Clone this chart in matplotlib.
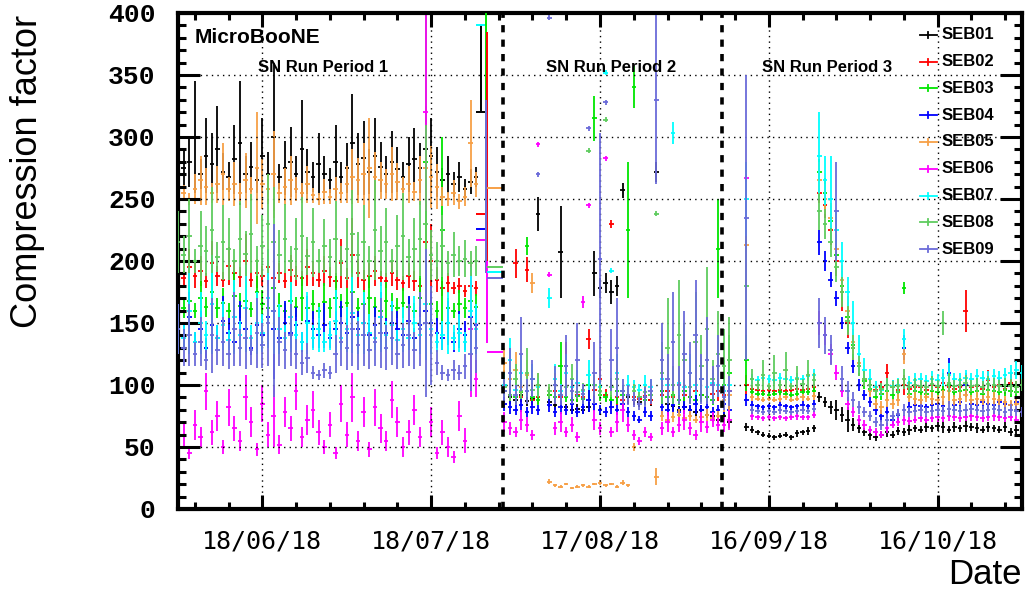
"""
plot.py
-------
SN stream compression factor per SEB for the three MicroBooNE SN run periods.
Day 0 on the x axis is 03/06/18; one value per day.
"""

import numpy as np
import matplotlib
matplotlib.use("Agg")
import matplotlib.pyplot as plt

# ---------------------------------------------------------------- axis data
tick_days = [15, 45, 75, 105, 135]
tick_labels = ["18/06/18", "18/07/18", "17/08/18", "16/09/18", "16/10/18"]
separator_days = [57.7, 96.6]
period_labels = ["SN Run Period 1", "SN Run Period 2", "SN Run Period 3"]
period_start = [0, 58, 97]        # first day of each list below

names = ["SEB01", "SEB02", "SEB03", "SEB04", "SEB05",
         "SEB06", "SEB07", "SEB08", "SEB09"]
colors = ["#000000", "#ff0000", "#00e600", "#0000ff", "#f7a046",
          "#ff00ff", "#00ffff", "#5fcc5f", "#6b6bd9"]

N = None

# ---------------------------------------------------------------- series
seb01 = [
    [268, 275, 280, 300, 270, 285, 278, 290, 272, 268, 282, 295, 270, 276, 265, 285, 270, 300,
     268, 275, 280, 270, 290, 272, 268, 278, 270, 265, 280, 268, 275, 295, 278, 283, 272, 285,
     276, 270, 280, 274, 268, 278, 282, 275, 290, 285, 272, 265, 270, 262, 268, 258, 264, 268],
    [100, 90, 88, 92, 87, 89, 238, N, 86, 84, 207, 82, 80, 81, 80, 82, 190, 178, 182, 175,
     180, 257, 90, 88, 86, 90, 88, 272, 95, 85, 83, 80, 82, 80, 78, 80, 76, 75, 72],
    [75, 70, N, N, 66, 64, 62, 60, 59, 58, 59, 60, 58, 61, 62, 63, 65,
     90, 86, 82, 80, 76, 72, 68, 65, 62, 60,
     58, 60, 62, 60, 63, 62, 64, 65, 64, 66, 65, 67, 66, 64, 66, 65, 67, 66, 65, 64, 66, 65,
     64, 66, 62, 64, 63]]
seb01_err = [
    [10, 15, 20, 45, 12, 30, 25, 35, 15, 12, 28, 50, 15, 20, 10, 30, 18, 60, 10, 22, 28, 15,
     40, 18, 12, 25, 15, 10, 30, 12, 20, 40, 25, 30, 18, 30, 20, 15, 25, 18, 12, 22, 25, 20,
     35, 30, 20, 10, 15, 10, 12, 8, 10, 8],
    [12, 5, 4, 6, 4, 5, 14, 0, 4, 4, 37, 3, 3, 4, 3, 4, 18, 8, 8, 10, 8, 6, 5, 4, 4, 6, 5, 8,
     10, 5, 4, 3, 4, 3, 3, 4, 3, 3, 3],
    [4, 5, 0, 0, 3, 3, 2, 2, 2, 2, 2, 2, 2, 3, 2, 3, 3, 4, 4, 5, 8, 6, 10, 5, 4, 3, 4,
     3, 3, 4, 3, 3, 3, 4, 3, 3, 4, 3, 4, 5, 3, 4, 3, 5, 3, 4, 3, 4, 3, 3, 4, 3, 4, 3]]

seb02 = [
    [190, 186, 195, 188, 192, 184, 198, 188, 185, 196, 190, 187, 200, 185, 190, 188, 195, 186,
     190, 184, 193, 188, 186, 195, 190, 185, 192, 187, 184, 198, 186, 205, 190, 185, 188, 192,
     186, 184, 190, 185, 182, 188, 184, 180, 215, 200, 185, 178, 182, 178, 180, 176, 180, 178],
    [95, 92, 198, 90, 193, 88, 90, N, 92, 95, 90, 115, 88, 92, 90, 137, 96, 105, 92, 230,
     90, 88, 92, 90, 89, 91, 88, N, 92, 95, 90, 100, 92, 90, 95, 92, 90, 93, 95],
    [92, 95, N, N, 100, 97, 96, 95, 96, 95, 96, 95, 96, 97, 96, 97, 98,
     255, 245, 225, 200, 175, 150, 130, 115, 105, 100,
     96, 98, 110, 98, 96, 100, 97, 98, 98, 96, 100, 98, 102, 98, 97, 98, 160, 98, 99, 97,
     104, 98, 100, 97, 102, 98, 96]]
seb02_err = [
    [8, 6, 15, 10, 12, 6, 18, 8, 6, 15, 10, 8, 22, 6, 12, 8, 15, 10, 8, 6, 12, 8, 6, 15, 10,
     6, 12, 8, 6, 20, 8, 30, 12, 8, 10, 12, 6, 6, 10, 8, 6, 10, 8, 6, 60, 30, 10, 6, 8, 5, 6,
     5, 8, 6],
    [8, 5, 12, 4, 10, 4, 5, 0, 6, 10, 5, 20, 4, 6, 5, 8, 8, 15, 5, 3, 6, 4, 5, 4, 4, 5, 4, 0,
     6, 8, 5, 12, 6, 5, 10, 6, 5, 8, 8],
    [10, 15, 0, 0, 8, 3, 2, 2, 2, 2, 3, 2, 2, 3, 2, 2, 3, 8, 10, 12, 12, 15, 12, 10, 8, 6, 5,
     4, 5, 7, 6, 4, 8, 4, 5, 5, 4, 6, 5, 8, 10, 4, 4, 17, 4, 5, 4, 8, 5, 6, 4, 8, 5, 4]]

seb03 = [
    [165, 162, 168, 160, 170, 163, 175, 162, 166, 160, 172, 164, 168, 161, 175, 165, 162, 178,
     164, 160, 168, 163, 170, 162, 165, 160, 167, 162, 170, 163, 166, 175, 162, 165, 170, 163,
     160, 168, 164, 162, 166, 163, 160, 170, 280, 165, 160, 225, 162, 160, 165, 162, 168, 163],
    [95, 92, 90, 94, 212, 90, 88, N, 92, 90, 115, 90, 88, 91, 89, 100, 315, 92, 90, 88,
     95, 92, 225, 340, 90, 88, 92, N, 95, 90, 92, 88, 95, 90, 88, 92, 90, 88, 210],
    [100, 110, N, N, 120, 94, 93, 93, 92, 93, 94, 93, 92, 93, 94, 94, 95,
     272, 255, 232, 205, 180, 155, 132, 115, 103, 97,
     90, 93, 95, 92, 94, 178, 93, 95, 94, 93, 95, 94, 96, 100, 94, 95, 96, 94, 95, 93, 96,
     95, 94, 96, 95, 94, 95]]
seb03_err = [
    [15, 8, 12, 6, 18, 8, 25, 8, 12, 6, 20, 10, 15, 6, 25, 12, 8, 30, 10, 6, 15, 8, 18, 8, 12,
     6, 15, 8, 20, 10, 12, 30, 8, 12, 18, 8, 6, 15, 10, 8, 12, 8, 6, 18, 120, 12, 8, 75, 8, 6,
     12, 8, 15, 10],
    [8, 5, 4, 6, 7, 4, 4, 0, 5, 4, 20, 4, 4, 5, 4, 12, 18, 5, 4, 4, 10, 5, 55, 17, 4, 4, 5, 0,
     8, 5, 6, 4, 10, 5, 4, 6, 5, 4, 40],
    [20, 30, 0, 0, 25, 3, 2, 2, 2, 2, 3, 2, 2, 2, 3, 2, 3, 10, 12, 12, 12, 12, 12, 10, 8, 6,
     5, 4, 5, 6, 4, 5, 5, 4, 6, 5, 4, 5, 4, 6, 12, 4, 5, 6, 4, 5, 4, 6, 5, 4, 5, 5, 4, 5]]

seb04 = [
    [150, 140, 155, 135, 145, 130, 148, 138, 152, 142, 135, 150, 145, 130, 148, 140, 155, 145,
     138, 150, 142, 148, 135, 152, 145, 140, 148, 138, 145, 150, 142, 155, 145, 150, 140, 148,
     155, 142, 150, 145, 140, 152, 138, 148, 160, 150, 142, 138, 150, 135, 145, 140, 155, 148],
    [85, 82, 80, 84, 78, 82, 80, N, 84, 78, 82, 80, 85, 78, 82, 88, 85, 80, 78, 82,
     80, 85, 78, 75, 72, 78, 75, N, 82, 80, 84, 78, 82, 80, 85, 80, 82, 78, 80],
    [85, 80, N, N, 88, 84, 83, 82, 83, 82, 84, 83, 82, 83, 84, 83, 85,
     215, 200, 185, 170, 150, 130, 115, 100, 92, 86,
     80, 75, 78, 72, 76, 130, 82, 84, 83, 82, 84, 85, 83, 110, 84, 86, 100, 85, 84, 86, 85,
     84, 86, 85, 84, 86, 85]]
seb04_err = [
    [15, 10, 20, 8, 15, 8, 18, 10, 20, 12, 8, 18, 15, 6, 20, 12, 22, 40, 10, 18, 12, 15, 8,
     20, 15, 10, 18, 8, 15, 18, 12, 22, 15, 18, 10, 15, 20, 12, 18, 15, 10, 20, 8, 15, 40, 25,
     12, 10, 18, 8, 15, 12, 22, 15],
    [6, 5, 4, 6, 4, 5, 4, 0, 6, 4, 5, 4, 8, 4, 5, 10, 6, 4, 4, 5, 4, 6, 4, 4, 3, 4, 4, 0, 6,
     5, 6, 4, 5, 4, 8, 4, 5, 4, 4],
    [8, 6, 0, 0, 5, 3, 2, 2, 2, 2, 3, 2, 2, 2, 3, 2, 3, 10, 8, 6, 6, 5, 5, 5, 5, 4, 4,
     4, 5, 5, 4, 5, 10, 4, 5, 4, 3, 4, 5, 4, 12, 4, 5, 10, 4, 4, 5, 4, 3, 4, 4, 3, 5, 4]]

seb05 = [
    [262, 255, 250, 258, 265, 260, 255, 262, 270, 258, 262, 255, 265, 258, 275, 262, 258, 270,
     255, 260, 265, 258, 255, 262, 253, 250, 256, 252, 258, 255, 262, 268, 265, 270, 275, 268,
     265, 262, 270, 264, 258, 262, 256, 265, 275, 268, 260, 252, 250, 255, 248, 252, 295, 262],
    [118, 105, 112, 98, 108, 182, 100, N, 22, 19, 18, 20, 17, 18, 19, 18, 20, 21, 19, 20,
     18, 21, 19, 50, N, N, N, 26, 75, 72, 74, 76, 73, 75, 72, 74, 76, 73, 75],
    [88, 92, N, N, 213, 90, 89, 88, 89, 88, 89, 90, 88, 89, 90, 89, 91,
     265, 250, 235, 210, 185, 160, 135, 118, 105, 95,
     85, 82, 88, 85, 88, 125, 90, 89, 88, 90, 89, 88, 90, 95, 88, 89, 92, 88, 89, 88, 90,
     89, 88, 86, 84, 85, 84]]
seb05_err = [
    [10, 6, 5, 12, 20, 15, 8, 15, 25, 10, 18, 8, 22, 10, 45, 20, 12, 35, 8, 15, 20, 10, 8, 15,
     6, 5, 10, 6, 10, 8, 15, 22, 18, 25, 40, 20, 15, 12, 22, 15, 10, 15, 8, 20, 35, 25, 18, 8,
     6, 10, 6, 8, 35, 10],
    [12, 10, 15, 8, 12, 8, 10, 0, 2, 1, 1, 1, 1, 1, 1, 1, 1, 2, 1, 1, 1, 2, 1, 3, 0, 0, 0, 7,
     4, 3, 4, 5, 3, 4, 3, 4, 5, 3, 4],
    [10, 15, 0, 0, 6, 3, 2, 2, 2, 2, 3, 2, 2, 2, 3, 2, 3, 15, 12, 12, 12, 12, 12, 10, 8, 6, 5,
     4, 5, 6, 4, 5, 8, 4, 5, 4, 4, 5, 4, 6, 10, 4, 5, 6, 4, 5, 4, 6, 5, 4, 5, 4, 4, 3]]

seb06 = [
    [55, 60, 45, 68, 58, 95, 62, 75, 50, 82, 65, 55, 90, 70, 48, 85, 60, 75, 52, 78, 65, 95,
     58, 72, 80, 62, 50, 68, 45, 85, 60, 90, 55, 78, 48, 82, 65, 55, 88, 70, 50, 62, 80, 58,
     320, 70, 45, 62, 50, 42, 75, 55, 145, 105],
    [70, 65, 62, 72, 68, 60, 294, N, 189, 65, 70, 62, 68, 58, 167, 245, 72, 65, 283, 62,
     70, 80, 68, 60, 55, 62, 58, N, 65, 70, 62, 68, 72, 65, 60, 70, 66, 72, 68],
    [68, 72, N, N, 267, 75, 74, 73, 74, 73, 74, 73, 74, 75, 74, 74, 76,
     150, 140, 125, 110, 95, 85, 78, 72, 68, 64,
     62, 60, 65, 68, 70, 72, 71, 72, 73, 72, 73, 74, 73, 75, 74, 73, 74, 75, 74, 73, 74, 75,
     74, 73, 74, 72, 73]]
seb06_err = [
    [8, 10, 5, 12, 8, 15, 10, 12, 6, 15, 10, 8, 18, 12, 5, 15, 10, 25, 8, 12, 10, 15, 8, 12,
     15, 10, 6, 10, 5, 15, 10, 20, 8, 12, 6, 15, 12, 8, 15, 12, 8, 10, 12, 8, 80, 12, 5, 10, 8,
     5, 12, 10, 55, 15],
    [8, 5, 4, 8, 6, 4, 2, 0, 2, 5, 8, 4, 6, 4, 5, 2, 8, 5, 2, 4, 8, 10, 6, 4, 3, 4, 3, 0, 5,
     8, 4, 6, 8, 5, 4, 8, 5, 6, 5],
    [6, 8, 0, 0, 3, 3, 2, 2, 2, 2, 2, 2, 2, 3, 2, 2, 3, 10, 8, 8, 6, 5, 5, 4, 4, 4, 3,
     3, 3, 4, 3, 3, 4, 3, 3, 3, 3, 3, 4, 3, 4, 3, 3, 3, 4, 3, 3, 3, 4, 3, 3, 3, 3, 3]]

seb07 = [
    [145, 138, 160, 135, 150, 140, 165, 138, 148, 136, 155, 140, 162, 138, 150, 142, 170, 160,
     145, 138, 155, 140, 135, 150, 138, 145, 135, 140, 152, 138, 145, 158, 140, 150, 142, 138,
     155, 140, 148, 136, 145, 138, 150, 140, 165, 145, 135, 140, 150, 138, 142, 135, 160, 145],
    [100, 120, 96, 110, 95, 105, 98, N, 170, 105, 95, 110, 98, 102, 95, 108, 100, 98, 352,
     192, 110, 95, 100, 98, 96, 100, 98, N, 105, 100, 303, 102, 98, 110, 100, 105, 98, 102,
     100],
    [95, 100, N, N, 250, 105, 104, 106, 105, 104, 106, 105, 104, 106, 105, 107, 108,
     285, 265, 250, 225, 200, 175, 150, 125, 112, 105,
     98, 96, 100, 99, 100, 137, 102, 104, 105, 103, 105, 104, 106, 108, 105, 104, 106, 105,
     107, 106, 105, 107, 106, 108, 110, 112, 110]]
seb07_err = [
    [20, 10, 35, 8, 25, 12, 40, 10, 20, 8, 30, 12, 35, 10, 25, 15, 40, 35, 20, 10, 28, 12, 8,
     25, 10, 18, 8, 12, 25, 10, 18, 32, 15, 25, 15, 10, 28, 12, 20, 8, 18, 10, 22, 15, 45, 20,
     8, 12, 25, 10, 15, 8, 35, 20],
    [10, 18, 6, 15, 5, 12, 8, 0, 8, 12, 6, 15, 8, 10, 5, 12, 8, 6, 2, 2, 15, 5, 8, 6, 5, 8, 6,
     0, 10, 8, 9, 10, 6, 15, 8, 12, 6, 8, 6],
    [10, 12, 0, 0, 30, 4, 3, 3, 3, 3, 4, 3, 3, 4, 3, 4, 5, 35, 20, 35, 15, 15, 12, 18, 15, 10,
     8, 5, 5, 6, 5, 6, 8, 5, 6, 5, 5, 6, 5, 7, 10, 5, 6, 6, 5, 6, 5, 6, 6, 5, 6, 6, 7, 6]]

seb08 = [
    [215, 205, 220, 200, 212, 208, 225, 203, 215, 210, 200, 218, 206, 222, 200, 212, 230, 215,
     205, 218, 200, 210, 220, 204, 215, 200, 212, 203, 218, 200, 210, 222, 205, 215, 200, 225,
     208, 215, 200, 212, 220, 203, 210, 218, 230, 205, 200, 212, 198, 205, 200, 202, 198, 200],
    [98, 92, 105, 95, 110, 96, 100, N, 95, 100, 92, 98, 105, 94, 96, 289, 100, 95, 314, 98,
     105, 95, 92, 95, 90, 94, 92, 238, 110, 130, 100, 140, 120, 98, 135, 115, 145, 105, 125],
    [115, 120, N, N, 180, 105, 100, 108, 99, 110, 100, 112, 99, 105, 101, 108, 104,
     240, 230, 215, 195, 175, 152, 130, 115, 105, 100,
     95, 97, 100, 98, 99, 105, 98, 100, 99, 98, 101, 99, 150, 102, 99, 100, 102, 99, 100, 98,
     101, 100, 99, 100, 99, 98, 100]]
seb08_err = [
    [25, 15, 30, 10, 28, 20, 35, 12, 30, 25, 10, 30, 18, 32, 12, 25, 40, 45, 20, 28, 12, 25,
     32, 15, 28, 10, 22, 15, 30, 12, 25, 35, 18, 30, 12, 40, 20, 28, 10, 25, 35, 15, 25, 30,
     80, 20, 15, 25, 10, 18, 12, 15, 10, 12],
    [8, 5, 12, 6, 20, 6, 10, 0, 6, 10, 5, 8, 12, 5, 6, 2, 8, 5, 2, 8, 15, 5, 4, 6, 4, 5, 4, 2,
     25, 40, 15, 45, 30, 10, 40, 25, 50, 15, 35],
    [30, 35, 0, 0, 40, 8, 4, 12, 3, 14, 4, 15, 3, 10, 4, 12, 6, 15, 12, 12, 12, 12, 12, 10, 8,
     6, 5, 4, 5, 6, 5, 6, 8, 5, 6, 5, 5, 6, 5, 10, 8, 5, 6, 6, 5, 6, 5, 6, 6, 5, 6, 6, 5, 5]]

seb09 = [
    [145, 130, 140, 125, 135, 120, 140, 128, 135, 125, 145, 130, 138, 128, 142, 132, 150, 160,
     135, 128, 140, 125, 118, 122, 110, 108, 112, 110, 125, 135, 130, 145, 132, 140, 128, 135,
     142, 130, 138, 125, 132, 140, 128, 145, 150, 140, 118, 110, 108, 112, 110, 115, 125, 130],
    [95, 110, 92, 125, 95, 105, 270, N, 396, 100, 92, 115, 95, 120, 93, 307, 110, 202, 328,
     120, 130, 95, 92, 88, 85, 90, 95, 330, 120, 105, 135, 100, 125, 110, 140, 105, 120, 100,
     115],
    [90, 95, N, N, 235, 80, 79, 78, 79, 78, 80, 79, 78, 79, 80, 79, 81,
     150, 140, 128, 240, 105, 95, 88, 82, 78, 75,
     70, 68, 72, 75, 77, 80, 78, 79, 80, 78, 79, 80, 79, 81, 80, 79, 80, 81, 80, 79, 80, 81,
     80, 78, 80, 79, 78]]
seb09_err = [
    [20, 15, 25, 10, 20, 8, 30, 12, 20, 12, 30, 15, 25, 12, 28, 18, 35, 70, 20, 15, 25, 12,
     10, 12, 5, 4, 6, 5, 15, 20, 18, 30, 20, 25, 15, 20, 28, 18, 22, 12, 18, 25, 15, 30, 60,
     40, 10, 6, 5, 8, 6, 10, 30, 20],
    [10, 20, 8, 30, 10, 15, 2, 0, 2, 15, 8, 25, 10, 30, 8, 2, 25, 101, 2, 25, 40, 10, 8, 6, 5,
     8, 10, 68, 30, 20, 40, 15, 35, 25, 45, 20, 35, 15, 25],
    [10, 12, 0, 0, 115, 3, 2, 2, 2, 2, 3, 2, 2, 2, 3, 2, 3, 20, 15, 12, 40, 10, 8, 6, 5, 4, 4,
     4, 4, 5, 4, 4, 5, 4, 4, 5, 4, 4, 5, 4, 6, 4, 4, 5, 4, 4, 4, 5, 4, 4, 4, 5, 4, 4]]

# wide points between periods 1 and 2: (SEB index, day, value, day half-width, err down, err up)
gap_points = [
    (0, 53.8, 320, 0.85, 0, 70), (6, 53.8, 390, 0.85, 0, 0), (1, 53.8, 238, 0.85, 0, 0),
    (3, 53.8, 226, 0.85, 0, 0), (5, 53.8, 217, 0.85, 0, 0), (2, 54.7, 300, 0, 110, 100),
    (1, 54.9, 290, 0, 90, 95), (8, 54.8, 260, 0, 70, 70), (5, 54.9, 167, 0, 33, 33),
    (4, 56.3, 259, 1.4, 0, 0), (7, 56.3, 195, 1.4, 0, 0), (6, 56.3, 191, 1.4, 0, 0),
    (8, 56.3, 186, 1.4, 0, 0), (5, 56.3, 127, 1.4, 0, 0),
]

series = [(seb01, seb01_err), (seb02, seb02_err), (seb03, seb03_err),
          (seb04, seb04_err), (seb05, seb05_err), (seb06, seb06_err),
          (seb07, seb07_err), (seb08, seb08_err), (seb09, seb09_err)]

# ---------------------------------------------------------------- figure
fig = plt.figure(figsize=(10.25, 5.92), dpi=100)
ax = fig.add_axes([178 / 1025, 83 / 592, 844 / 1025, 496 / 592])

for k, (vals, errs) in enumerate(series):
    for start, v, e in zip(period_start, vals, errs):
        n = min(len(v), len(e))
        d = start + np.arange(n)
        y = np.array([np.nan if a is None else a for a in v[:n]], dtype=float)
        ax.errorbar(d, y, yerr=np.array(e[:n], dtype=float), xerr=0.4, fmt="none",
                    ecolor=colors[k], elinewidth=1.3, capsize=0, zorder=2 + k * 0.1)

for k, d, v, xe, lo, hi in gap_points:
    ax.errorbar([d], [v], yerr=[[lo], [hi]], xerr=xe, fmt="none",
                ecolor=colors[k], elinewidth=1.4, capsize=0, zorder=3)

for d in separator_days:
    ax.axvline(d, color="black", lw=2.6, ls=(0, (2, 2)), zorder=5)

ax.set_xlim(0, 150)
ax.set_ylim(0, 400)
ax.set_xticks(tick_days)
ax.set_xticklabels(tick_labels, family="DejaVu Sans Mono", fontsize=18)
ax.set_xticks(np.arange(3, 150, 6), minor=True)
ax.set_yticks(np.arange(0, 401, 50))
ax.set_yticklabels([str(v) for v in range(0, 401, 50)],
                   family="Liberation Mono", fontweight="bold", fontsize=19)
ax.set_yticks(np.arange(0, 401, 10), minor=True)

ax.tick_params(which="both", direction="in", top=True, right=True, width=2.2)
ax.tick_params(axis="y", which="major", length=16, pad=16)
ax.tick_params(axis="y", which="minor", length=6)
ax.tick_params(axis="x", which="major", length=10, pad=15)
ax.tick_params(axis="x", which="minor", length=5)
for sp in ax.spines.values():
    sp.set_linewidth(3)
ax.grid(True, which="major", color="black", lw=1, ls=(0, (1, 3)))
ax.set_axisbelow(False)

# labels
tfont = "Liberation Sans"
ax.text(0.02, 0.95, "MicroBooNE", transform=ax.transAxes, family=tfont,
        fontweight="bold", fontsize=15, va="center", ha="left", zorder=6)
for xc, lab in zip([0.172, 0.513, 0.769], period_labels):
    ax.text(xc, 0.891, lab, transform=ax.transAxes, family=tfont, fontweight="bold",
            fontsize=12, va="center", ha="center", zorder=6)

# legend drawn by hand (ROOT style, no frame)
for i, (name, col) in enumerate(zip(names, colors)):
    yy = 0.956 - i * 0.054
    ax.plot([0.879, 0.899], [yy, yy], color=col, lw=1.3, transform=ax.transAxes,
            clip_on=False, zorder=6)
    ax.plot([0.889, 0.889], [yy - 0.006, yy + 0.006], color=col, lw=1.3,
            transform=ax.transAxes, clip_on=False, zorder=6)
    ax.text(0.905, yy, name, transform=ax.transAxes, family=tfont, fontweight="bold",
            fontsize=12, va="center", ha="left", zorder=6)

fig.text(28 / 1025, 1 - 171 / 592, "Compression factor", rotation=90, family=tfont,
         fontsize=26, ha="center", va="center")
fig.text(1022 / 1025, 1 - 575 / 592, "Date", family=tfont, fontsize=25,
         ha="right", va="center")

fig.savefig("out.png", dpi=100)
plt.close(fig)
